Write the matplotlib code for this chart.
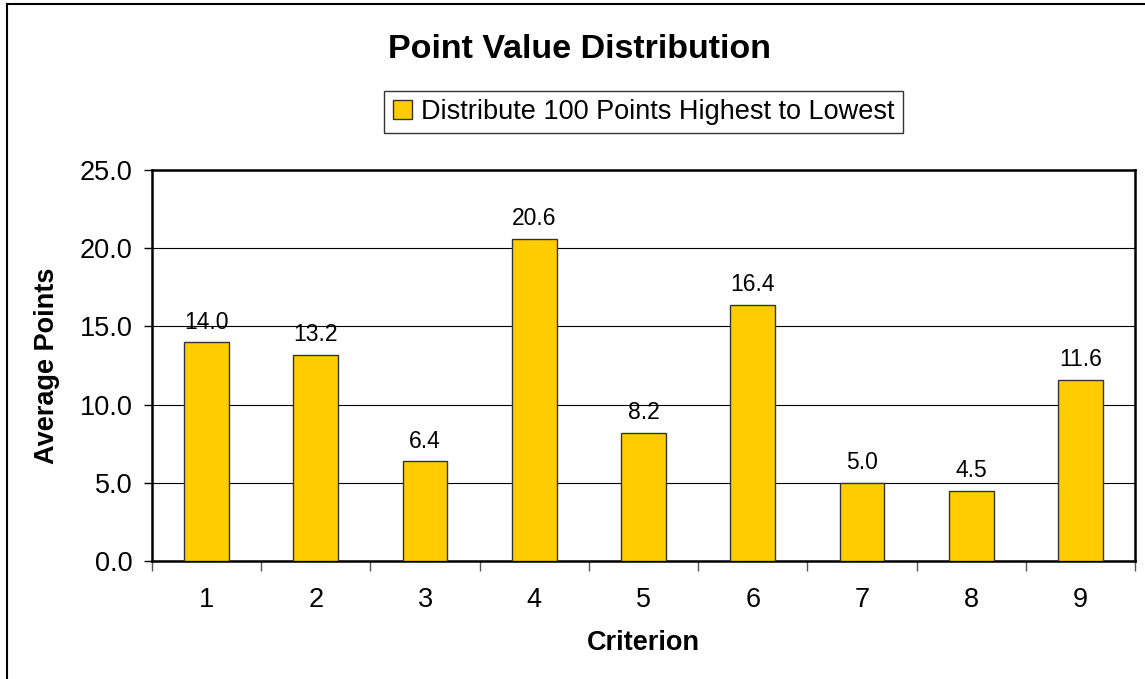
import numpy as np
import matplotlib.pyplot as plt
from matplotlib.patches import Rectangle

plt.rcParams['font.family'] = ['Liberation Sans', 'DejaVu Sans']

# Average points per criterion
criteria = [1, 2, 3, 4, 5, 6, 7, 8, 9]
avg_points = [14.0, 13.2, 6.4, 20.6, 8.2, 16.4, 5.0, 4.5, 11.6]
series_name = "Distribute 100 Points Highest to Lowest"

fig = plt.figure(figsize=(11.45, 6.79), dpi=100)
ax = fig.add_axes([0.1328, 0.1738, 0.8585, 0.5758])

x = np.arange(len(criteria))
bars = ax.bar(x, avg_points, width=0.41, color='#FFCC00', edgecolor='#333333',
              linewidth=1.0, label=series_name, zorder=3)

for b, v in zip(bars, avg_points):
    ax.annotate(f"{v:.1f}", (b.get_x() + b.get_width() / 2, v),
                xytext=(0, 6), textcoords='offset points',
                ha='center', va='bottom', fontsize=16.5)

ax.set_xlim(-0.5, len(criteria) - 0.5)
ax.set_ylim(0, 25)
ax.set_yticks([0, 5, 10, 15, 20, 25])
ax.set_yticklabels([f"{t:.1f}" for t in [0, 5, 10, 15, 20, 25]], fontsize=19.5)
ax.yaxis.grid(True, color='black', linewidth=0.8, zorder=0)
ax.tick_params(axis='y', length=6, width=1, direction='out', pad=8)

ax.set_xticks(x)
ax.set_xticklabels([str(c) for c in criteria], fontsize=19.5)
ax.tick_params(axis='x', which='major', length=0, pad=19)
ax.set_xticks(np.arange(-0.5, len(criteria)), minor=True)
ax.tick_params(axis='x', which='minor', length=7, width=1, color='#555555')

for s in ax.spines.values():
    s.set_linewidth(1.8)
    s.set_color('black')

ax.set_xlabel("Criterion", fontsize=19.5, fontweight='bold', labelpad=12)
ax.set_ylabel("Average Points", fontsize=19.5, fontweight='bold', labelpad=14)

fig.text(0.506, 0.927, "Point Value Distribution", ha='center', va='center',
         fontsize=24.5, fontweight='bold')

leg = ax.legend(loc='center', bbox_to_anchor=(0.5, 1.148), frameon=True,
                fancybox=False, edgecolor='black', fontsize=19.5,
                handlelength=0.7, handleheight=0.7, handletextpad=0.35,
                borderpad=0.3)
leg.get_frame().set_linewidth(1.0)

# outer chart frame (cut off on the right and bottom)
fig.patches.append(Rectangle((7 / 1145, -0.1), 1.2, 1 - 4 / 679 + 0.1,
                             transform=fig.transFigure, fill=False,
                             edgecolor='black', linewidth=1.5))

fig.savefig("out.png", dpi=100)
